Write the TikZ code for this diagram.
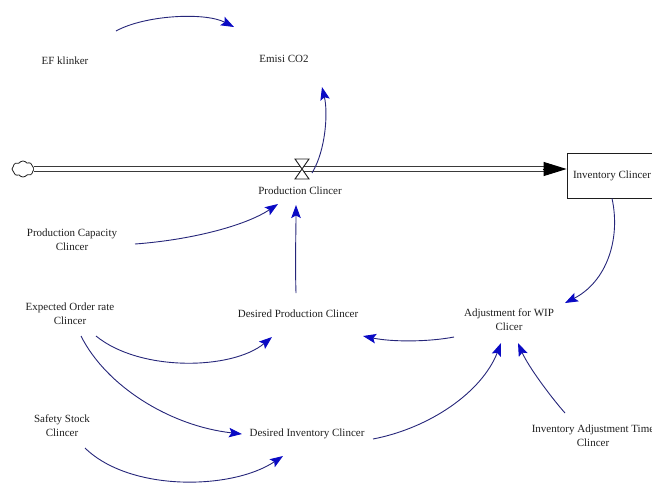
\documentclass[tikz,border=0pt]{standalone}
\usepackage{fontspec}
\setmainfont{Liberation Serif}
\usepackage{tikz}
\usetikzlibrary{arrows.meta, positioning, calc, shapes.symbols}
\definecolor{LinkNavy}{HTML}{26267A}
\definecolor{HeadBlue}{HTML}{0A0AC4}
\definecolor{PipeGray}{HTML}{3A3A3A}
\definecolor{InkGray}{HTML}{1E1E1E}

\begin{document}
\begin{tikzpicture}[x=1pt, y=-1pt,
    var/.style={font=\fontsize{11}{14}\selectfont, text=InkGray, align=center, inner sep=1pt},
    link/.style={-{Stealth[length=13pt,width=9.5pt,inset=2.5pt,color=HeadBlue]}, line width=0.9pt, LinkNavy},
    pipe/.style={double=white, double distance=3.2pt, line width=1.1pt, PipeGray}]
    \useasboundingbox (0,0) rectangle (652,483);

    % Stock and flow
    \node[cloud, draw=InkGray, cloud puffs=8, cloud puff arc=110, aspect=1.4,
          minimum width=22pt, minimum height=16pt, inner sep=0pt, line width=0.8pt] (src) at (23,169) {};
    \node[draw=InkGray, line width=0.8pt, minimum width=90pt, minimum height=45pt,
          font=\fontsize{11}{14}\selectfont, text=InkGray] (inv) at (612,175.5) {Inventory Clincer};
    \coordinate (valve) at (302,169);

    \draw[pipe] (src.east) -- ($(src.east -| inv.west)+(-20,0)$);
    \draw[-{Triangle[length=23pt,width=14pt]}, black, line width=1pt]
        ($(src.east -| inv.west)+(-24,0)$) -- (src.east -| inv.west);
    \draw[InkGray, line width=0.9pt, fill=white, line join=miter]
        ($(valve)+(-7,-10)$) -- ($(valve)+(7,-10)$) -- ($(valve)+(-7,10)$) -- ($(valve)+(7,10)$) -- cycle;
    \node[var] (prod) at (300,191) {Production Clincer};

    % Variables
    \node[var] (ef) at (65,61) {EF klinker};
    \node[var] (emisi) at (284,59) {Emisi CO2};
    \node[var] (cap) at (72,240) {Production Capacity\\Clincer};
    \node[var] (exp) at (70,314) {Expected Order rate\\Clincer};
    \node[var] (desprod) at (298,314) {Desired Production Clincer};
    \node[var] (adj) at (509,320) {Adjustment for WIP\\Clicer};
    \node[var] (desinv) at (307,434) {Desired Inventory Clincer};
    \node[var] (invadj) at (593,436) {Inventory Adjustment Time\\Clincer};
    \node[var] (safety) at (62,426) {Safety Stock\\Clincer};

    % Causal links
    \draw[link] ($(ef)+(51,-30)$) .. controls (145,15) and (205,12) .. ($(emisi)+(-50,-32)$);
    \draw[link] ($(valve)+(10,4)$) .. controls (326,150) and (328,112) .. ($(emisi)+(38,28)$);
    \draw[link] ($(cap)+(63,4)$) .. controls (190,240) and (245,226) .. ($(valve)+(-24,35)$);
    \draw[link] ($(desprod)+(-2,-21)$) .. controls (295,262) and (296,232) .. ($(valve)+(-6,36)$);
    \draw[link] (inv.south) .. controls (621,240) and (606,282) .. ($(adj)+(56,-17)$);
    \draw[link] ($(adj)+(-55,17)$) .. controls (428,342) and (392,342) .. ($(desprod)+(65,22)$);
    \draw[link] ($(exp)+(26,22)$) .. controls (140,372) and (232,370) .. ($(desprod)+(-26,23)$);
    \draw[link] ($(exp)+(11,22)$) .. controls (106,386) and (170,426) .. ($(desinv)+(-65,0)$);
    \draw[link] ($(desinv)+(66,5)$) .. controls (430,428) and (482,392) .. ($(adj)+(-8,23)$);
    \draw[link] ($(invadj)+(-28,-23)$) .. controls (550,396) and (528,366) .. ($(adj)+(9,23)$);
    \draw[link] ($(safety)+(23,22)$) .. controls (130,492) and (232,490) .. ($(desinv)+(-24,22)$);
\end{tikzpicture}
\end{document}
